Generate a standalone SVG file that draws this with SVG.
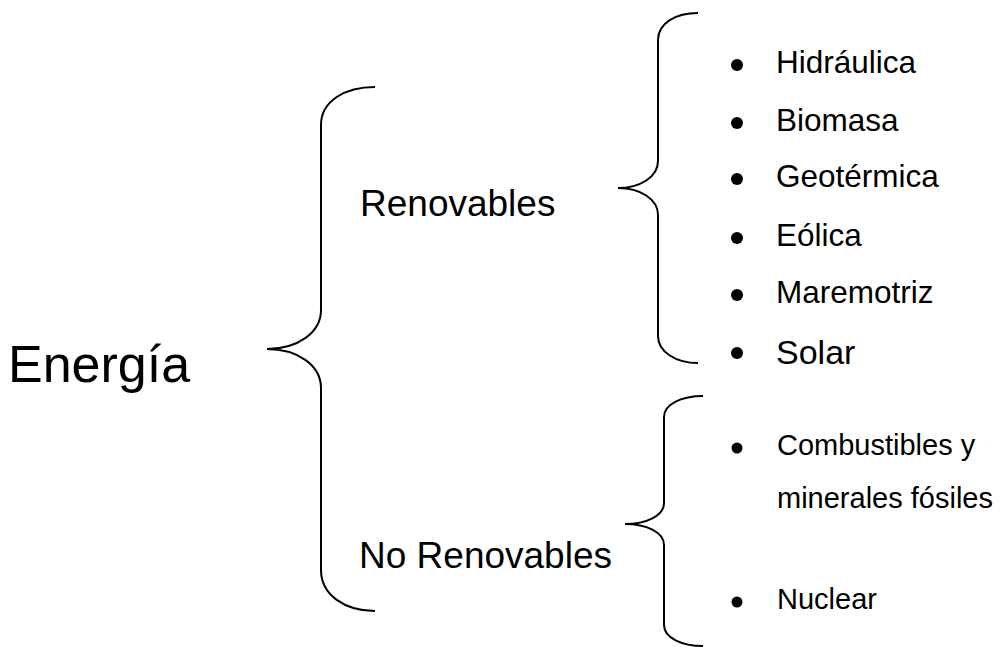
<svg xmlns="http://www.w3.org/2000/svg" width="1001" height="647" viewBox="0 0 1001 647">
  <style>
    .brace { fill: none; stroke: #000; stroke-width: 2; }
    .t { font-family: "Liberation Sans", Arial, sans-serif; fill: #000; }
    .dot { fill: #000; }
  </style>
  <rect width="1001" height="647" fill="#fff"/>

  <g id="connectors">
    <!-- main brace: Energía -> Renovables / No Renovables -->
    <path class="brace" d="M375,87 C345,87 321,101 321,125 L321,310 C321,333 297,349 267,349 C297,349 321,365 321,388 L321,570 C321,595 345,611 375,611"/>
    <!-- brace: Renovables -> list -->
    <path class="brace" d="M698,13 C676,13 658,23 658,40 L658,161 C658,177 640,188 618,188 C640,188 658,199 658,215 L658,336 C658,352 676,363 698,363"/>
    <!-- brace: No Renovables -> list -->
    <path class="brace" d="M703,396 C682,396 664,404 664,417 L664,503 C664,516 646,524 625,524 C646,524 664,532 664,545 L664,625 C664,638 682,646 703,646"/>
  </g>

  <g id="energia">
    <text class="t" x="8" y="382" font-size="52">Energía</text>
  </g>

  <g id="renovables">
    <text class="t" x="360" y="216" font-size="37">Renovables</text>
  </g>

  <g id="no-renovables">
    <text class="t" x="359" y="568" font-size="37">No Renovables</text>
  </g>

  <g id="renovables-list">
    <circle class="dot" cx="737" cy="65" r="6"/>
    <text class="t" x="776" y="73" font-size="31.5">Hidráulica</text>
    <circle class="dot" cx="737" cy="123" r="6"/>
    <text class="t" x="776" y="131" font-size="31.5">Biomasa</text>
    <circle class="dot" cx="737" cy="179" r="6"/>
    <text class="t" x="776" y="187" font-size="31.5">Geotérmica</text>
    <circle class="dot" cx="737" cy="238" r="6"/>
    <text class="t" x="776" y="246" font-size="31.5">Eólica</text>
    <circle class="dot" cx="737" cy="295" r="6"/>
    <text class="t" x="776" y="303" font-size="31.5">Maremotriz</text>
    <circle class="dot" cx="737" cy="353" r="6"/>
    <text class="t" x="776" y="364" font-size="34">Solar</text>
  </g>

  <g id="no-renovables-list">
    <circle class="dot" cx="737" cy="448" r="5.5"/>
    <text class="t" x="777" y="455" font-size="29">Combustibles y</text>
    <text class="t" x="777" y="508" font-size="29">minerales fósiles</text>
    <circle class="dot" cx="737" cy="602" r="5.5"/>
    <text class="t" x="777" y="609" font-size="29">Nuclear</text>
  </g>
</svg>
